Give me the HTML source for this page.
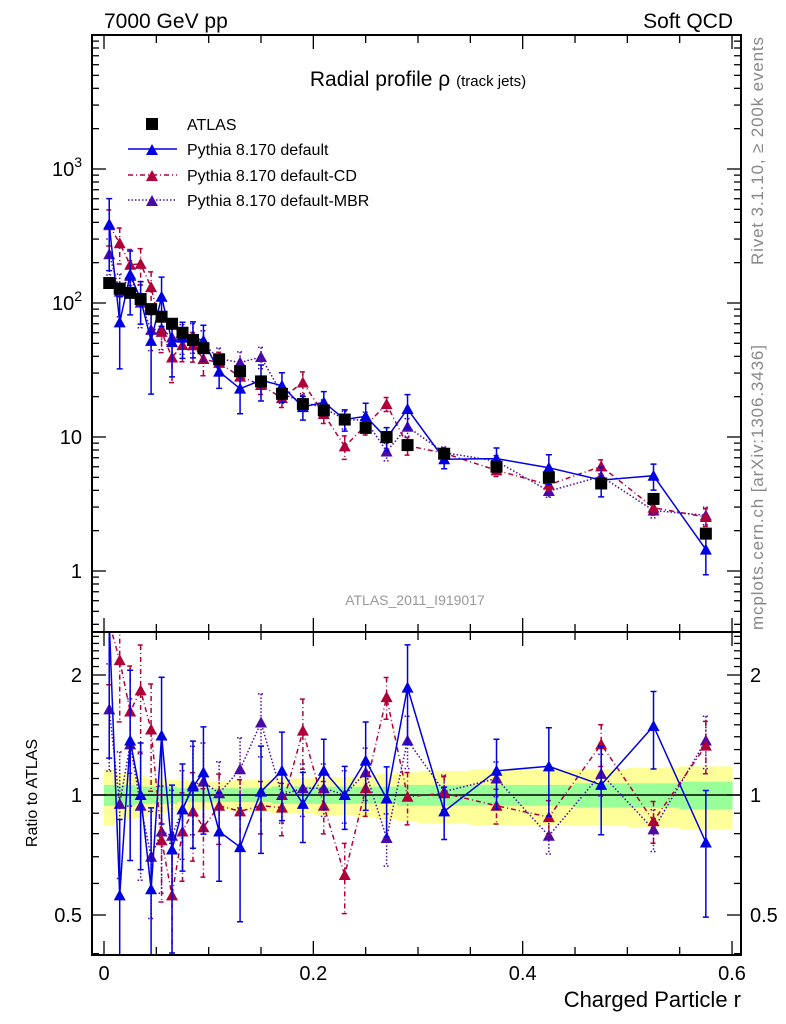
<!DOCTYPE html>
<html><head><meta charset="utf-8"><style>
body{margin:0;background:#fff}
svg{display:block;font-family:"Liberation Sans",sans-serif}
</style></head><body>
<svg id="c" width="786" height="1024" xmlns="http://www.w3.org/2000/svg">
<text x="104" y="28" font-size="21">7000 GeV pp</text>
<text x="733" y="28" font-size="21" text-anchor="end">Soft QCD</text>
<text x="418" y="86" font-size="21" text-anchor="middle">Radial profile ρ <tspan font-size="15">(track jets)</tspan></text>
<text x="415" y="605" font-size="14" fill="#999" text-anchor="middle">ATLAS_2011_I919017</text>
<text transform="translate(763,265) rotate(-90)" font-size="17" fill="#888" textLength="228">Rivet 3.1.10, ≥ 200k events</text>
<text transform="translate(763,630) rotate(-90)" font-size="17" fill="#888" textLength="285">mcplots.cern.ch [arXiv:1306.3436]</text>
<text transform="translate(37,793) rotate(-90)" font-size="16" text-anchor="middle">Ratio to ATLAS</text>
<text x="741" y="1007" font-size="22" text-anchor="end">Charged Particle r</text>
<g id="bands"></g><g id="plot"></g><g id="axes"></g>
<g>
<rect x="146" y="118" width="12" height="12" fill="#000"/>
<text x="187" y="130" font-size="16">ATLAS</text>
<line x1="128" y1="149" x2="177" y2="149" stroke="#0000e0" stroke-width="1.5"/>
<path d="M146,155 L158,155 L152,144Z" fill="#0000e0"/>
<text x="187" y="155" font-size="16">Pythia 8.170 default</text>
<line x1="128" y1="175" x2="177" y2="175" stroke="#b0003a" stroke-width="1.5" stroke-dasharray="5,3,1,3"/>
<path d="M146,181 L158,181 L152,170Z" fill="#b0003a"/>
<text x="187" y="181" font-size="16">Pythia 8.170 default-CD</text>
<line x1="128" y1="200" x2="177" y2="200" stroke="#4b0aa8" stroke-width="1.5" stroke-dasharray="1.5,2"/>
<path d="M146,206 L158,206 L152,195Z" fill="#4b0aa8"/>
<text x="187" y="206" font-size="16">Pythia 8.170 default-MBR</text>
</g>
</svg>
<script>
const binLo=[0,0.01,0.02,0.03,0.04,0.05,0.06,0.07,0.08,0.09,0.1,0.12,0.14,0.16,0.18,0.2,0.22,0.24,0.26,0.28,0.3,0.35,0.4,0.45,0.5,0.55];
const binHi=[0.01,0.02,0.03,0.04,0.05,0.06,0.07,0.08,0.09,0.1,0.12,0.14,0.16,0.18,0.2,0.22,0.24,0.26,0.28,0.3,0.35,0.4,0.45,0.5,0.55,0.6];
const atlas=[141,128,119,107,90,79,70,60,53,46,38,31,26,21,17.6,15.8,13.5,11.7,10,8.7,7.5,6,5,4.5,3.45,1.9];
const ratioDefault=[2.75,0.56,1.37,1.0,0.58,1.41,0.73,0.92,1.05,1.14,0.81,0.74,1.02,1.15,0.95,1.15,1.0,1.22,0.98,1.86,0.91,1.15,1.18,1.06,1.49,0.76];
const errDefault=[0.55,0.55,0.5,0.35,0.6,0.4,0.45,0.3,0.3,0.3,0.25,0.35,0.3,0.25,0.2,0.2,0.18,0.25,0.2,0.28,0.15,0.2,0.25,0.25,0.22,0.35];
const ratioCD=[2.7,2.18,1.62,1.83,1.46,0.77,0.56,0.81,0.91,0.83,0.94,0.91,0.94,0.93,1.45,0.94,0.63,1.04,1.76,0.99,1.01,0.94,0.88,1.34,0.86,1.33];
const errCD=[0.3,0.3,0.3,0.3,0.3,0.3,0.35,0.25,0.25,0.25,0.2,0.2,0.15,0.15,0.2,0.15,0.2,0.15,0.12,0.15,0.1,0.1,0.1,0.12,0.12,0.15];
const ratioMBR=[1.64,0.95,1.34,0.94,0.70,0.81,0.79,0.92,1.06,1.08,1.01,1.16,1.52,1.0,1.04,1.04,1.0,1.14,0.78,1.37,1.02,1.10,0.79,1.13,0.82,1.37];
const errMBR=[0.3,0.35,0.3,0.35,0.3,0.3,0.3,0.25,0.25,0.25,0.2,0.2,0.18,0.15,0.15,0.15,0.15,0.15,0.15,0.15,0.1,0.1,0.1,0.12,0.12,0.15];
const bandTot=[0.16,0.13,0.13,0.12,0.1,0.1,0.09,0.09,0.08,0.08,0.08,0.09,0.09,0.1,0.1,0.11,0.11,0.12,0.13,0.14,0.15,0.16,0.16,0.16,0.17,0.18];
const bandStat=[0.06,0.06,0.06,0.05,0.05,0.05,0.05,0.04,0.04,0.04,0.04,0.04,0.04,0.05,0.05,0.05,0.05,0.05,0.05,0.06,0.06,0.06,0.06,0.07,0.07,0.08];
const xTicks=[0,0.2,0.4,0.6];
const mainTicks=[1,10,100,1000];
const ratioTicks=[0.5,1,2];

const NS="http://www.w3.org/2000/svg";
const L=92,R=741,T=35,M=632,B=955;
const X=v=>104+v*1046.7;
const Y=v=>571-134*Math.log10(v);
const YR=v=>795-120*Math.log2(v);
function el(tag,attrs,parent){const e=document.createElementNS(NS,tag);for(const k in attrs)e.setAttribute(k,attrs[k]);(parent||document.getElementById('plot')).appendChild(e);return e;}
const bands=document.getElementById('bands'),axes=document.getElementById('axes'),plot=document.getElementById('plot');
const defs=el('defs',{},document.getElementById('c'));
const c1=el('clipPath',{id:'cm'},defs);el('rect',{x:L,y:T,width:R-L,height:M-T},c1);
const c2=el('clipPath',{id:'cr'},defs);el('rect',{x:L,y:M,width:R-L,height:B-M},c2);
for(let i=0;i<binLo.length;i++){
 const a=el('rect',{x:X(binLo[i]),width:X(binHi[i])-X(binLo[i])+0.5,y:YR(1+bandTot[i]),height:YR(1-bandTot[i])-YR(1+bandTot[i]),fill:'#ffff99'},bands);
 
 const b=el('rect',{x:X(binLo[i]),width:X(binHi[i])-X(binLo[i])+0.5,y:YR(1+bandStat[i]),height:YR(1-bandStat[i])-YR(1+bandStat[i]),fill:'#99ff99'},bands);
 
}
el('line',{x1:L,x2:R,y1:YR(1),y2:YR(1),stroke:'#000','stroke-width':1.5},bands);
const mid=i=>(binLo[i]+binHi[i])/2;
const series=[
 {name:'pythia-default',r:ratioDefault,e:errDefault,col:'#0000e0',dash:''},
 {name:'pythia-default-cd',r:ratioCD,e:errCD,col:'#b0003a',dash:'5,3,1,3'},
 {name:'pythia-default-mbr',r:ratioMBR,e:errMBR,col:'#4b0aa8',dash:'1.5,2'}];
[['cm',Y,true],['cr',YR,false]].forEach(([clip,Yf,isMain])=>{
 const g=el('g',{'clip-path':'url(#'+clip+')'},plot);
 series.slice().reverse().forEach(s=>{
  const vals=s.r.map((r,i)=>isMain?r*atlas[i]:r);
  const pts=vals.map((v,i)=>X(mid(i)).toFixed(1)+','+Yf(v).toFixed(1)).join(' ');
  const pl=el('polyline',{points:pts,fill:'none',stroke:s.col,'stroke-width':1.5,'stroke-dasharray':s.dash},g);
  
  vals.forEach((v,i)=>{
   const x=X(mid(i)),lo=v*(1-Math.min(s.e[i],0.8)),hi=v*(1+s.e[i]);
   const eb=el('path',{d:`M${x},${Yf(hi)}V${Yf(lo)}M${x-3},${Yf(hi)}h6M${x-3},${Yf(lo)}h6`,stroke:s.col,'stroke-width':1.5,'stroke-dasharray':s.dash,fill:'none'},g);
   
   const y=Yf(v);
   const m=el('path',{d:`M${x-6},${y+5}L${x+6},${y+5}L${x},${y-6}Z`,fill:s.col},g);
   
  });
 });
 if(isMain){atlas.forEach((v,i)=>{
  const x=X(mid(i)),y=Y(v);
  const m=el('rect',{x:x-6,y:y-6,width:12,height:12,fill:'#000'},g);
  
 });}
});
[[T,M],[M,B]].forEach(([t,b])=>{const f=el('rect',{x:L,y:t,width:R-L,height:b-t,fill:'none',stroke:'#000','stroke-width':2},axes);});
for(let k=0;k<=12;k++){const v=k*0.05,x=X(v),len=(k%4==0)?14:8;
 [T,M].forEach(y=>el('line',{x1:x,x2:x,y1:y,y2:y+len,stroke:'#000','stroke-width':1.3},axes));
 [M,B].forEach(y=>el('line',{x1:x,x2:x,y1:y,y2:y-len,stroke:'#000','stroke-width':1.3},axes));}
xTicks.forEach(v=>{const t=el('text',{x:X(v),y:980,'font-size':20,'text-anchor':'middle'},axes);t.textContent=v===0?'0':String(v);});
for(let d=-1;d<=3;d++)for(let m=1;m<=9;m++){const v=m*Math.pow(10,d),y=Y(v);if(y<T||y>M)continue;const len=m==1?14:7;
 el('line',{x1:L,x2:L+len,y1:y,y2:y,stroke:'#000','stroke-width':1.3},axes);el('line',{x1:R,x2:R-len,y1:y,y2:y,stroke:'#000','stroke-width':1.3},axes);}
mainTicks.forEach(v=>{const t=el('text',{x:82,y:Y(v)+7,'font-size':20,'text-anchor':'end'},axes);
 if(v>=100){t.textContent='10';const s=el('tspan',{dy:-9,'font-size':14},t);s.textContent=String(Math.round(Math.log10(v)));}else t.textContent=String(v);
 });
for(let v=0.4;v<=2.6;v+=0.1){const y=YR(v);if(y<M||y>B)continue;const major=[0.5,1,2].some(a=>Math.abs(a-v)<1e-6);const len=major?14:7;
 el('line',{x1:L,x2:L+len,y1:y,y2:y,stroke:'#000','stroke-width':1.3},axes);el('line',{x1:R,x2:R-len,y1:y,y2:y,stroke:'#000','stroke-width':1.3},axes);}
ratioTicks.forEach(v=>{[[82,'end'],[750,'start']].forEach(([x,a])=>{const t=el('text',{x:x,y:YR(v)+7,'font-size':20,'text-anchor':a},axes);t.textContent=String(v);});});
</script>
</body></html>
